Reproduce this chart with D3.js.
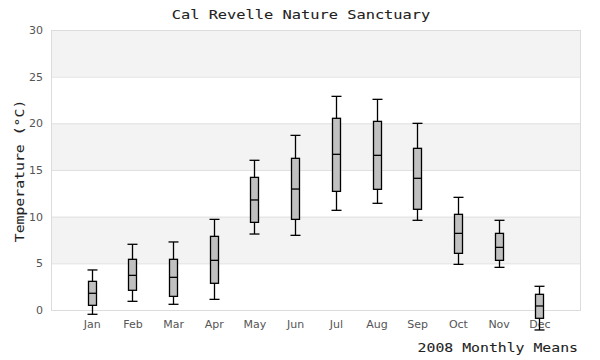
<!DOCTYPE html>
<html><head><meta charset="utf-8">
<script src="https://cdn.jsdelivr.net/npm/d3@7"></script>
<style>body{margin:0;background:#fff}svg{display:block}</style>
</head><body>
<svg id="c" width="600" height="360"></svg>
<script>
const months = ["Jan","Feb","Mar","Apr","May","Jun","Jul","Aug","Sep","Oct","Nov","Dec"];
const lowValues    = [-0.46, 0.93, 0.61, 1.14, 8.14, 8.0, 10.68, 11.43, 9.61, 4.89, 4.57, -2.14];
const q1Values     = [0.5, 2.11, 1.46, 2.86, 9.39, 9.71, 12.71, 12.93, 10.79, 6.07, 5.32, -0.89];
const medianValues = [1.79, 3.71, 3.5, 5.32, 11.79, 12.96, 16.68, 16.57, 14.11, 8.21, 6.71, 0.43];
const q3Values     = [3.07, 5.43, 5.43, 7.89, 14.21, 16.25, 20.54, 20.21, 17.32, 10.25, 8.21, 1.68];
const highValues   = [4.29, 7.04, 7.29, 9.71, 16.04, 18.71, 22.89, 22.57, 20.0, 12.07, 9.61, 2.54];
const yTicks = [0, 5, 10, 15, 20, 25, 30];

const svg = d3.select("#c");
const L = 51, R = 580, T = 30, B = 310;
const x = d3.scaleLinear().domain([0, 13]).range([L, R]);
const y = d3.scaleLinear().domain([0, 30]).range([B, T]);

// bands
for (let i = 0; i < yTicks.length - 1; i++) {
  if (i % 2 === 1) {
    svg.append("rect").attr("x", L).attr("width", R - L)
      .attr("y", y(yTicks[i + 1])).attr("height", y(yTicks[i]) - y(yTicks[i + 1]))
      .attr("fill", "#f3f3f3");
  }
}
// grid lines
svg.append("g").selectAll("line").data(yTicks).join("line")
  .attr("x1", L).attr("x2", R).attr("y1", d => y(d) + 0.5).attr("y2", d => y(d) + 0.5)
  .attr("stroke", "#e0e0e0").attr("stroke-width", 1);
// border
svg.append("rect").attr("x", L + 0.5).attr("y", T + 0.5).attr("width", R - L).attr("height", B - T)
  .attr("fill", "none").attr("stroke", "#dcdcdc");

// y axis labels
const yAxis = d3.axisLeft(y).tickValues(yTicks).tickSize(0).tickPadding(8);
const ga = svg.append("g").attr("transform", `translate(${L},0)`).call(yAxis);
ga.select(".domain").remove();
ga.selectAll("text").attr("font-family", "DejaVu Sans, sans-serif").attr("font-size", 11).attr("fill", "#555");

// x axis labels
const xAxis = d3.axisBottom(x).tickValues(d3.range(1, 13)).tickFormat(d => months[d - 1]).tickSize(0).tickPadding(10);
const gx = svg.append("g").attr("transform", `translate(0,${B})`).call(xAxis);
gx.select(".domain").remove();
gx.selectAll("text").attr("font-family", "DejaVu Sans, sans-serif").attr("font-size", 11).attr("fill", "#555");

// boxes
const data = months.map((m, i) => ({i: i + 1, lo: lowValues[i], q1: q1Values[i], med: medianValues[i], q3: q3Values[i], hi: highValues[i]}));
const bw = 8, cw = 10;
const cx = d => Math.round(x(d.i)) + 0.5;
const g = svg.append("g").selectAll("g").data(data).join("g");
g.append("line").attr("x1", cx).attr("x2", cx)
  .attr("y1", d => y(d.lo)).attr("y2", d => y(d.hi)).attr("stroke", "#000").attr("stroke-width", 1.3);
g.append("line").attr("x1", d => cx(d) - cw / 2).attr("x2", d => cx(d) + cw / 2)
  .attr("y1", d => y(d.hi)).attr("y2", d => y(d.hi)).attr("stroke", "#000").attr("stroke-width", 1.3);
g.append("line").attr("x1", d => cx(d) - cw / 2).attr("x2", d => cx(d) + cw / 2)
  .attr("y1", d => y(d.lo)).attr("y2", d => y(d.lo)).attr("stroke", "#000").attr("stroke-width", 1.3);
g.append("rect").attr("x", d => cx(d) - bw / 2).attr("width", bw)
  .attr("y", d => y(d.q3)).attr("height", d => y(d.q1) - y(d.q3))
  .attr("fill", "#c0c0c0").attr("stroke", "#000").attr("stroke-width", 1.3);
g.append("line").attr("x1", d => cx(d) - bw / 2).attr("x2", d => cx(d) + bw / 2)
  .attr("y1", d => y(d.med)).attr("y2", d => y(d.med)).attr("stroke", "#000").attr("stroke-width", 1.3);

// titles
const mono = "DejaVu Sans Mono, monospace";
svg.append("text").attr("transform", "translate(301,19) scale(1.28,1)").attr("text-anchor", "middle")
  .attr("font-family", mono).attr("font-size", 12).attr("fill", "#222").attr("stroke", "#222").attr("stroke-width", 0.08)
  .text("Cal Revelle Nature Sanctuary");
svg.append("text").attr("transform", "translate(578,352) scale(1.14,1)").attr("text-anchor", "end")
  .attr("font-family", mono).attr("font-size", 13).attr("fill", "#222").attr("stroke", "#222").attr("stroke-width", 0.08)
  .text("2008 Monthly Means");
svg.append("text").attr("transform", "translate(24,171) rotate(-90) scale(1.14,1)").attr("text-anchor", "middle")
  .attr("font-family", mono).attr("font-size", 13).attr("fill", "#222").attr("stroke", "#222").attr("stroke-width", 0.08)
  .text("Temperature (°C)");
</script>
</body></html>
